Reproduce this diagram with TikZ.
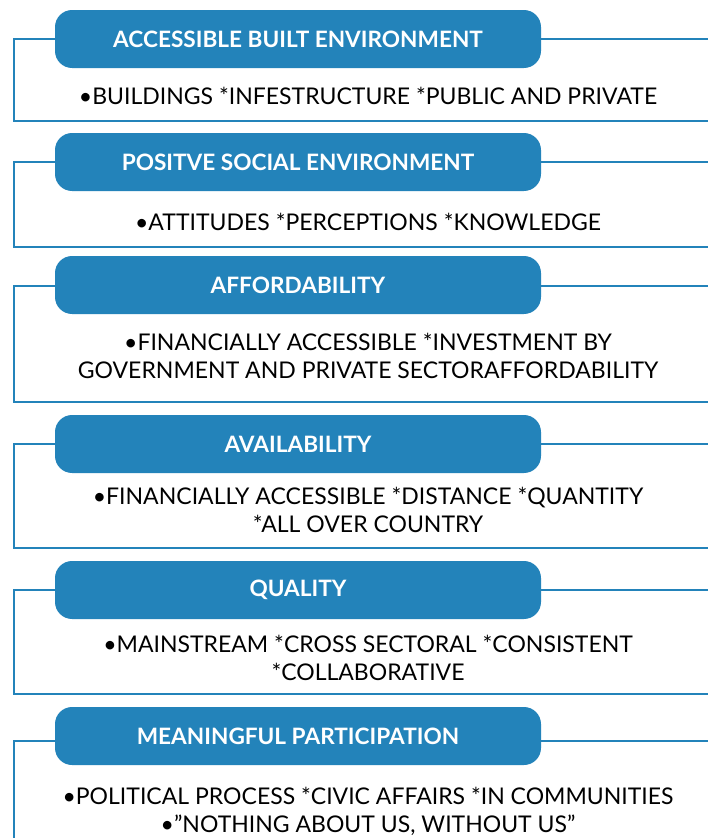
\documentclass[tikz,border=0pt]{standalone}
\usepackage{fontspec}
\setmainfont{Lato}
\usepackage{tikz}
\usetikzlibrary{positioning,calc}
\usepackage{xcolor}
\definecolor{hdblue}{HTML}{2383BA}

\begin{document}
\begin{tikzpicture}[x=1pt,y=-1pt,
        hd/.style={fill=hdblue,draw=none,rounded corners=6mm,minimum width=486pt,
          minimum height=58pt,text=white,font=\fontsize{22.6}{22.6}\selectfont\bfseries},
        bd/.style={align=center,font=\fontsize{23}{28}\selectfont,text=black},
        fr/.style={draw=hdblue,line width=1.6pt}]
        \useasboundingbox (0,0) rectangle (707,838);
        % frames
        \draw[fr] (712,39) -- (14,39) -- (14,121) -- (712,121);
        \draw[fr] (712,162) -- (14,162) -- (14,247) -- (712,247);
        \draw[fr] (712,286) -- (14,286) -- (14,402) -- (712,402);
        \draw[fr] (712,444) -- (14,444) -- (14,548) -- (712,548);
        \draw[fr] (712,590) -- (14,590) -- (14,694) -- (712,694);
        \draw[fr] (712,741) -- (14,741) -- (14,845);
        % headers
        \node[hd] (h1) at (298,39) {ACCESSIBLE BUILT ENVIRONMENT};
        \node[hd] (h2) at (298,162) {POSITVE SOCIAL ENVIRONMENT};
        \node[hd] (h3) at (298,285) {AFFORDABILITY};
        \node[hd] (h4) at (298,444) {AVAILABILITY};
        \node[hd] (h5) at (298,590) {QUALITY};
        \node[hd] (h6) at (298,736) {MEANINGFUL PARTICIPATION};
        % contents
        \node[bd] (t1) at (368,96) {•BUILDINGS *INFESTRUCTURE *PUBLIC AND PRIVATE};
        \node[bd] (t2) at (368,222) {•ATTITUDES *PERCEPTIONS *KNOWLEDGE};
        \node[bd] (t3) at (368,356) {•FINANCIALLY ACCESSIBLE *INVESTMENT BY\\GOVERNMENT AND PRIVATE SECTORAFFORDABILITY};
        \node[bd] (t4) at (368,510) {•FINANCIALLY ACCESSIBLE *DISTANCE *QUANTITY\\*ALL OVER COUNTRY};
        \node[bd] (t5) at (368,658) {•MAINSTREAM *CROSS SECTORAL *CONSISTENT\\*COLLABORATIVE};
        \node[bd] (t6) at (368,811) {•POLITICAL PROCESS *CIVIC AFFAIRS *IN COMMUNITIES\\•"NOTHING ABOUT US, WITHOUT US"};
      \end{tikzpicture}
\end{document}
